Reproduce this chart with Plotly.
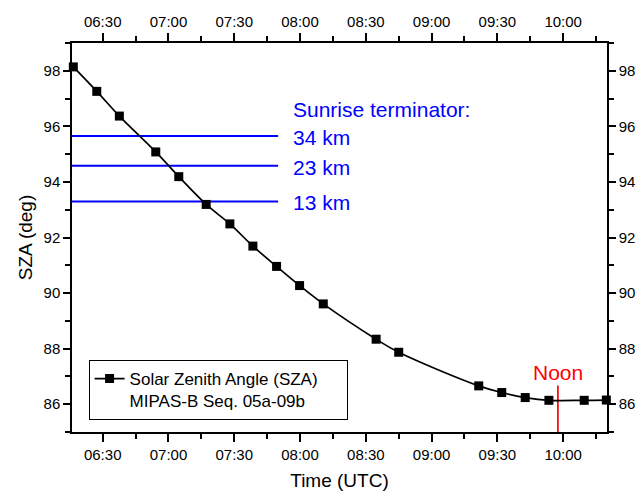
import plotly.graph_objects as go

day = "2000-01-01 "
# Solar zenith angle measurements
times = ["06:16:36", "06:27:18", "06:37:36", "06:54:12", "07:04:42", "07:17:12",
         "07:28:00", "07:38:30", "07:49:18", "07:59:48", "08:10:36", "08:34:42",
         "08:45:00", "09:21:30", "09:32:00", "09:42:42", "09:53:30", "10:09:36",
         "10:19:42"]
sza = [98.14, 97.26, 96.37, 95.08, 94.19, 93.19, 92.49, 91.69, 90.96, 90.27,
       89.61, 88.34, 87.87, 86.66, 86.42, 86.24, 86.14, 86.14, 86.15]

# Sunrise terminator levels
term_labels = ["34 km", "23 km", "13 km"]
term_sza = [95.65, 94.58, 93.30]
term_start = "06:16:00"
term_end = "07:50:00"

noon_time = "09:57:36"
noon_top = 86.67

x_range = ["06:16:00", "10:20:00"]
y_range = [85, 99]

t = [day + s for s in times]
font = "Arial, Liberation Sans, sans-serif"

fig = go.Figure()

for lvl, lab in zip(term_sza, term_labels):
    fig.add_trace(go.Scatter(x=[day + term_start, day + term_end], y=[lvl, lvl],
                             mode="lines", line=dict(color="#0000FF", width=2),
                             showlegend=False, hoverinfo="skip", cliponaxis=False))

fig.add_trace(go.Scatter(x=[day + noon_time, day + noon_time], y=[y_range[0], noon_top],
                         mode="lines", line=dict(color="#FF0000", width=1.7),
                         showlegend=False, hoverinfo="skip"))

fig.add_trace(go.Scatter(x=t, y=sza, mode="lines+markers", line_shape="spline",
                         line=dict(color="black", width=1.7),
                         marker=dict(symbol="square", size=9, color="black"),
                         name="Solar Zenith Angle (SZA)\u00a0\u00a0\u00a0\u00a0\u00a0<br>MIPAS-B Seq. 05a-09b",
                         cliponaxis=False))

fig.add_trace(go.Scatter(x=t, y=sza, xaxis="x2", yaxis="y2", mode="lines",
                         line=dict(width=0), opacity=0, showlegend=False,
                         hoverinfo="skip"))

fig.add_annotation(x=day + "07:56:00", y=96.62, text="Sunrise terminator:",
                   xanchor="left", yanchor="middle", showarrow=False,
                   font=dict(family=font, size=21, color="#0000FF"))
for lvl, lab in zip(term_sza, term_labels):
    fig.add_annotation(x=day + "07:56:00", y=lvl - 0.05, text=lab,
                       xanchor="left", yanchor="middle", showarrow=False,
                       font=dict(family=font, size=21, color="#0000FF"))
fig.add_annotation(x=day + noon_time, y=87.13, text="Noon", xanchor="center",
                   yanchor="middle", showarrow=False,
                   font=dict(family=font, size=21, color="#FF0000"))

xax = dict(type="date", range=[day + x_range[0], day + x_range[1]],
           tick0=day + "06:00:00", dtick=1800000, tickformat="%H:%M",
           ticks="outside", ticklen=8, tickwidth=1.5, tickcolor="black",
           showline=True, linecolor="black", linewidth=1.5, showgrid=False,
           zeroline=False, tickfont=dict(family=font, size=15, color="black"),
           automargin=False,
           minor=dict(dtick=900000, tick0=day + "06:00:00", ticks="outside",
                      ticklen=5, tickwidth=1.5, tickcolor="black", showgrid=False))
yax = dict(range=y_range, tick0=86, dtick=2, ticks="outside", ticklen=7,
           tickwidth=1.5, tickcolor="black", showline=True, linecolor="black",
           linewidth=1.5, showgrid=False, zeroline=False, automargin=False,
           tickfont=dict(family=font, size=15, color="black"),
           minor=dict(dtick=1, tick0=85, ticks="outside", ticklen=5,
                      tickwidth=1.5, tickcolor="black", showgrid=False))

fig.update_layout(
    width=642, height=493,
    margin=dict(l=72, r=35, t=43, b=61),
    plot_bgcolor="white", paper_bgcolor="white",
    font=dict(family=font, color="black"),
    xaxis=dict(**xax, title=dict(text="Time (UTC)", font=dict(size=19), standoff=12)),
    xaxis2=dict(**xax, overlaying="x", side="top", matches="x"),
    yaxis=dict(**yax, title=dict(text="SZA (deg)", font=dict(size=19), standoff=6)),
    yaxis2=dict(**yax, overlaying="y", side="right", matches="y"),
    legend=dict(x=0.031, y=0.185, xanchor="left", yanchor="top",
                bordercolor="black", borderwidth=1, bgcolor="white",
                font=dict(family=font, size=17, color="black"), valign="top",
                tracegroupgap=0),
    showlegend=True,
)

fig.write_html("out.html",
               config={"displayModeBar": False},
               post_script="document.documentElement.style.margin='0';"
                           "document.body.style.margin='0';"
                           "document.body.style.overflow='hidden';")
